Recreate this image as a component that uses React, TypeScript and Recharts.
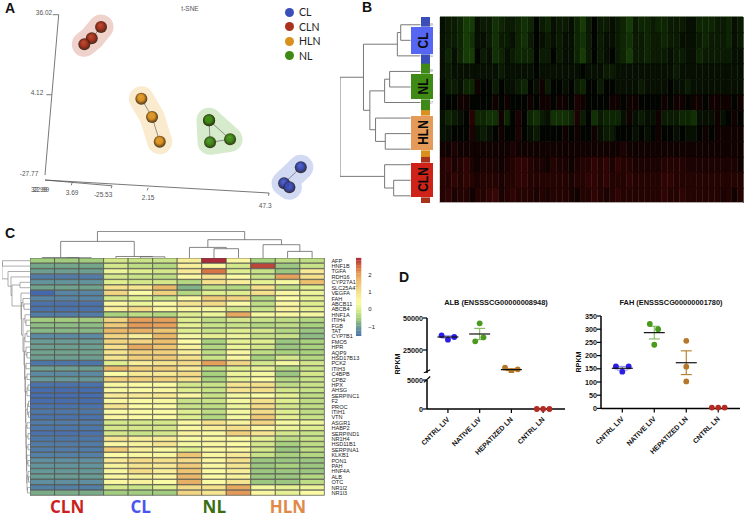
import React from "react";
import { Bar, BarChart, Cell, ErrorBar, ReferenceArea, ReferenceLine, Scatter, ScatterChart, XAxis, YAxis } from "recharts";

// panel A: t-SNE
const groupNames = ["CL", "CLN", "HLN", "NL"];
const groupColors = ["#3b4db8", "#a8321c", "#d9901e", "#3f8a16"];
const haloColors = ["#d2d9f3", "#eed2cb", "#faebcf", "#d6eacc"];
const tsneCL = [{ x: 58.55, y: -24.82 }, { x: 52.57, y: -31.2 }, { x: 54.47, y: -32.8 }];
const tsneCLN = [{ x: -12.94, y: 31.12 }, { x: -16.27, y: 26.61 }, { x: -18.92, y: 24.22 }];
const tsneHLN = [{ x: 1.49, y: 2.53 }, { x: 5.32, y: -4.77 }, { x: 8.07, y: -14.62 }];
const tsneNL = [{ x: 25.72, y: -6.08 }, { x: 26.08, y: -14.85 }, { x: 33.24, y: -13.66 }, { x: 25.72, y: -6.08 }];
const tsneGroups = [tsneCL, tsneCLN, tsneHLN, tsneNL];
const tsneAxisLines = [
  [{ x: -28.09, y: 36.02 }, { x: -32.99, y: -27.9 }],
  [{ x: -32.99, y: -29.9 }, { x: 47.2, y: -35.07 }],
  [{ x: -32.99, y: -29.9 }, { x: -9, y: -32.2 }],
  [{ x: -28.09, y: 36.02 }, { x: -30.2, y: 36.02 }],
  [{ x: -30.6, y: 4.12 }, { x: -32.5, y: 4.12 }],
  [{ x: -23.3, y: -31 }, { x: -23.6, y: -32 }],
  [{ x: -9, y: -32.2 }, { x: -9.3, y: -33.2 }],
  [{ x: 3.9, y: -33 }, { x: 3.6, y: -34 }],
  [{ x: 47.2, y: -35.07 }, { x: 47, y: -36.2 }],
];
const tsneAxisLabels = [
  { x: -33.35, y: 36.7, text: "36.02" },
  { x: -35.85, y: 4.76, text: "4.12" },
  { x: -38.7, y: -27.5, text: "-27.77" },
  { x: -35.1, y: -33.9, text: "32.99" },
  { x: -34.4, y: -33.9, text: "22.99" },
  { x: -23.3, y: -35.07, text: "3.69" },
  { x: -12.2, y: -35.9, text: "-25.53" },
  { x: 3.9, y: -37.1, text: "2.15" },
  { x: 45.8, y: -40.3, text: "47.3" },
  { x: 18.9, y: 38.3, text: "t-SNE" },
];

// panel B: sample heatmap, green positive, red negative
const sampleLabels = ["s49", "s48", "s50", "s39", "s12", "s17", "s2", "s5", "s8", "s18", "s40", "s30"];
const sampleGroup = [0, 0, 0, 3, 3, 3, 2, 2, 2, 1, 1, 1];
const sampleRows = [
  [1,2,2,3,5,5,1,2,2,4,3,2,2,3,4,3,0,2,3,1,2,2,1,3,5,2,0,2,2,1,2,3,5,2,3,3,2,3,3,2,2,2,1,1,3,3,3,2,2,3,1,2],
  [1,2,2,3,5,4,1,1,2,4,2,2,1,3,4,2,0,1,2,1,2,1,1,3,4,2,0,2,1,1,2,3,4,2,2,3,2,2,3,2,2,1,1,1,2,3,2,2,2,3,1,2],
  [1,3,1,3,5,5,0,2,1,4,3,1,2,3,3,3,0,2,2,0,2,1,1,3,5,2,0,2,1,0,2,3,5,2,2,3,2,2,2,1,2,2,1,1,3,2,2,2,2,2,1,1],
  [1,2,1,1,1,1,1,1,1,1,2,1,1,1,1,1,0,1,1,1,1,1,1,1,0,1,1,1,2,2,1,1,1,1,1,1,1,1,1,1,2,1,1,1,1,1,1,1,1,1,1,1],
  [0,2,2,1,3,3,-1,0,0,2,0,1,1,2,3,0,1,-1,2,0,0,1,0,2,3,0,0,2,0,0,1,1,1,1,2,1,1,1,1,0,1,1,2,1,1,1,1,1,1,1,1,1],
  [0,0,0,-1,-1,0,0,0,0,-1,0,-1,0,0,0,-1,0,-1,-1,0,-1,-1,0,-2,-1,0,0,0,0,-1,-1,0,-1,-1,0,0,0,0,-1,0,-1,-1,0,-1,-1,0,-1,-1,-1,-1,0,-1],
  [1,3,2,1,0,-3,3,3,4,4,-1,3,0,-2,0,3,4,2,1,4,4,4,3,-2,2,0,4,2,3,3,3,1,-1,1,2,1,1,-1,2,2,2,3,3,4,1,1,1,-1,1,0,-1,0],
  [1,1,0,0,0,-2,1,2,1,0,-1,0,0,-2,0,1,2,0,0,0,0,-1,0,-1,0,0,-1,1,2,2,0,0,0,1,0,1,0,-1,0,0,1,0,1,1,0,-1,0,-1,-1,-1,-1,-1],
  [-1,-1,-2,-1,-1,-1,-1,-1,-1,-1,-1,-1,-2,-1,-1,-1,-1,-1,-1,-1,-1,-1,-1,-1,-1,-1,-1,-1,-1,-1,-1,-2,-1,-1,-1,-1,-1,-1,-1,-1,-1,-1,-1,-1,-1,-1,-1,-1,-1,-1,-1,-1],
  [-3,-4,-2,-3,-4,-2,-1,-2,-2,-2,-1,-2,-3,-4,-4,-3,-2,-2,-1,-3,-2,-2,-1,-2,-3,-3,-4,-3,-4,-2,-4,-3,-3,-2,-2,-2,-2,-2,-3,-3,-3,-3,-2,-2,-2,-2,-2,-2,-2,-2,-2,-1],
  [-3,-3,-4,-3,-4,-3,-2,-3,-3,-3,-2,-3,-3,-4,-4,-3,-3,-3,-3,-3,-3,-3,-2,-3,-3,-4,-4,-3,-4,-3,-3,-3,-4,-3,-3,-3,-3,-3,-4,-4,-3,-3,-3,-3,-3,-3,-3,-3,-3,-3,-3,-3],
  [-3,-4,-2,-3,-3,-1,-3,-3,-4,-5,-2,-3,-4,-3,-3,-3,-2,-3,-2,-3,-3,-3,-2,-1,-3,-3,-4,-3,-2,-3,-4,-3,-3,-3,-3,-3,-3,-3,-4,-3,-3,-4,-3,-3,-3,-3,-3,-3,-2,-3,-1,-3],
];
const sampleTree = [240,
  [170, [69, [59, 0, 1], 2], [151, [107, [92, 3, 4], 5], [134, 6, [105, 7, 8]]]],
  [107, 9, [80, 10, 11]]];

// panel C: liver gene heatmap, z-scores by column CLN, CL, NL, HLN
const geneNames = ["AFP", "HNF1B", "TGFA", "RDH16", "CYP27A1", "SLC25A47", "VEGFA", "FAH", "ABCB11", "ABCB4", "HNF1A", "ITIH4", "FGB", "TAT", "CYP7B1", "FMO5", "HPR", "AQP9", "HSD17B13", "PCK2", "ITIH3", "C4BPB", "CPB2", "HPX", "AHSG", "SERPINC1", "F2", "PROC", "ITIH1", "VTN", "ASGR1", "HABP2", "SERPIND1", "NR1H4", "HSD11B1", "SERPINA1", "KLKB1", "PON1", "PAH", "HNF4A", "ALB", "OTC", "NR1I2", "NR1I3"];
const geneRows = [
  [-.55,-.55,-.55,-.1,-.2,-.2,.7,2.95,.5,-.5,-.3,-.3],
  [-.9,-.9,-.9,-.1,-.3,-.4,.7,.5,-.1,2.75,-.6,-.2],
  [-1,-1,-1,.2,0,-.1,.8,2.4,0,-.2,-.6,.8],
  [-1.4,-1.4,-1.4,-.1,-.2,-.3,.5,.9,.4,-.2,2,1],
  [-1.15,-1.15,-1.15,0,-.1,-.1,-.4,1,.7,.1,.3,1.6],
  [-.95,-.95,-.95,1,.9,1.7,-.8,-.3,-.4,1,-.3,0],
  [-1.6,-1.3,-1.3,1.2,.4,1.3,-.4,0,0,1,.5,.2],
  [-1.3,-1.3,-1.3,-.1,0,-.2,.5,1.4,1.2,-.4,.4,.1],
  [-1.5,-1.5,-1.5,.5,.2,.4,.9,1.1,.4,-.3,.5,0],
  [-1.5,-1.5,-1.5,.7,1.1,.5,.5,.3,-.1,-.2,.6,.1],
  [-1.4,-1.4,-1.4,-.5,-.3,-.4,0,.2,1.9,.3,.5,.3],
  [-.55,-.55,-.55,1.2,2,2,0,-.3,-.1,-.2,-.3,-.4],
  [-.7,-.7,-.7,1.4,2.1,2,.1,-.2,-.2,-.4,-.3,-.5],
  [-.75,-.75,-.75,1.7,1.8,1.5,0,-.2,0,-.1,-.4,-.6],
  [-1.25,-1.25,-1.25,1.2,.7,1.7,.3,.1,.2,-.2,-.2,-.7],
  [-1.05,-1.05,-1.05,1.2,1.2,1.6,.4,-.5,.1,0,-.6,-.5],
  [-1,-1,-1,1,1.9,1.5,.6,-.4,.2,-.1,-.6,-.5],
  [-.95,-.95,-.95,.9,1.3,1.3,.7,-.3,.5,-.3,-.5,-.5],
  [-1,-1,-1,.9,1.3,1.4,1,-.2,.5,-.5,-.1,-.4],
  [-1.45,-1.45,-1.45,0,.7,.9,1.1,2,1.2,-.1,.3,-.1],
  [-1,-1,-1,1.7,1.3,1.3,.8,-.3,0,.1,-.4,-.2],
  [-1.25,-1.25,-1.25,.4,.8,.8,1.1,-.5,.2,.3,-.6,-.1],
  [-1.1,-1.1,-1.1,1.3,1.3,1.3,1,-.5,.1,.4,-.4,-.2],
  [-1.5,-1.5,-1.5,.5,.4,.4,-.1,-.2,.9,1,-.3,-.2],
  [-1.55,-1.55,-1.55,.5,.4,.5,0,-.2,.9,1,-.1,-.2],
  [-1.55,-1.55,-1.55,.8,.8,.8,.5,-.2,.3,.4,.1,-.3],
  [-1.55,-1.55,-1.55,.5,.4,.5,-.2,-.2,.3,1,0,-.3],
  [-1.5,-1.5,-1.5,.9,.4,.4,-.2,-.3,.2,1.1,-.1,-.3],
  [-1.45,-1.45,-1.45,.4,.4,.4,0,-.3,.3,1.1,0,-.3],
  [-1.5,-1.5,-1.5,.5,.4,.4,0,-.4,.3,1.4,.1,-.2],
  [-1.4,-1.4,-1.4,-.1,-.1,-.1,.5,1,.6,1.2,.3,.2],
  [-1.45,-1.45,-1.45,-.1,-.1,-.1,.5,.7,1,.5,.2,0],
  [-1.5,-1.5,-1.5,-.1,-.2,-.1,.6,.5,1.3,.9,-.1,-.2],
  [-1.45,-1.45,-1.45,.9,.7,.7,.4,.5,.4,.1,-.3,-.2],
  [-1.4,-1.4,-1.4,.5,.6,.9,.3,.5,.4,-.1,-.5,-.3],
  [-1.4,-1.4,-1.4,1.4,.7,.5,0,.5,.5,-.1,-.6,-.3],
  [-1.35,-1.35,-1.35,.4,.5,.5,1.5,.5,.8,-.2,-.5,-.4],
  [-1.2,-1.2,-1.2,.8,1.1,1,1.1,.5,1,-.6,-.6,-.6],
  [-1.15,-1.15,-1.15,.6,.9,.8,1.4,.5,.9,-.6,-.5,-.6],
  [-1.1,-1.1,-1.1,.5,1.1,.7,1.5,.4,.7,-.6,-.6,-.6],
  [-1.05,-1.05,-1.05,.5,.6,.5,1.7,.4,.6,-.6,-.6,-.4],
  [-1.2,-1.2,-1.2,.5,.6,.4,1.8,.4,.9,-.6,-.6,-.3],
  [-1.35,-1.35,-1.35,-.1,-.2,0,1.1,1,1.9,.3,.1,.2],
  [-.85,-.85,-.85,-.55,-.55,-.55,1.2,.9,2.1,.5,.1,.4],
];
const columnTree = [26.6,
  [16.6, [.5, 0, [.3, 1, 2]], [1.5, 3, [1.2, 4, 5]]],
  [18.3, [10.6, 6, [9.3, 7, 8]], [13.3, 9, [6.6, 10, 11]]]];
const geneTree = [28, [27.5, 0, 1], [22, 2, [19, 3, [18, [10, 4, 5], [9, 6,
  [8.5, [7, 7, [6, 8, 9]], [7, [5, 10, [4, 11, 12]], [6, [5, [3, 13, 14], 15], [5.5, [4, 16, [3, 17, 18]], [5, [4, 19, 20], [4.6, [3, 21, 22],
    [4.4, [3, [2, 23, 24], 25], [4.2, [2.5, [1.5, 26, 27], [1.5, 28, 29]], [4, [3, 30, 31], [3.8, [2, 32, 33], [3.5, [2, 34, 35],
      [3.3, [3, 36, [2, 37, 38]], [3, [2, 39, [1.5, 40, 41]], [2.5, 42, 43]]]]]]]]]]]]]]]]]]];
const scaleStops: [number, string][] = [[-1.6, "#4468ae"], [-1.2, "#5f8fa0"], [-.9, "#74a68a"], [-.5, "#a8d27e"], [0, "#dfee8e"], [.4, "#fbfba6"], [1, "#f5e08c"], [1.6, "#ecbf6e"], [2.1, "#e39a58"], [2.5, "#d4683f"], [2.95, "#ab2b3a"]];
const scaleSteps = [-1.55, -1.4, -1.25, -1.1, -.95, -.8, -.65, -.5, -.35, -.2, -.05, .1, .25, .4, .55, .7, .85, 1, 1.15, 1.3, 1.45, 1.6, 1.75, 1.9, 2.05, 2.2, 2.35, 2.5, 2.65, 2.8];
const scaleTicks = [-1, 0, 1, 2];
const columnLabels = ["CLN", "CL", "NL", "HLN"];
const columnLabelColors = ["#cc1f1f", "#4a55f0", "#3a6e14", "#e08a4a"];

// panel D: RPKM dot plots
const conditions = ["CNTRL LIV", "NATIVE LIV", "HEPATIZED LN", "CNTRL LN"];
const dotColors = ["#2a1ee6", "#4a9a1e", "#b5782a", "#b22a22"];
const whiskerColors = ["#8f8ff0", "#7fb85a", "#b5782a", "#b22a22"];
const albPoints = [
  [{ x: -.2, y: 36460 }, { x: 0, y: 33080 }, { x: .2, y: 35160 }],
  [{ x: 1, y: 45830 }, { x: .86, y: 31770 }, { x: 1.12, y: 34900 }],
  [{ x: 1.8, y: 11200 }, { x: 2, y: 8080 }, { x: 2.2, y: 9900 }],
];
const albLow = [{ x: 2.8, y: 0 }, { x: 3, y: 0 }, { x: 3.2, y: 0 }];
const albMeans = [{ x: 0, y: 35160, sem: 900 }, { x: 1, y: 37500, sem: 4400 }, { x: 2, y: 9640, sem: 700 }];
const fahPoints = [
  [{ x: -.2, y: 159 }, { x: 0, y: 139 }, { x: .2, y: 159 }],
  [{ x: .86, y: 320 }, { x: 1.12, y: 300 }, { x: 1, y: 241 }],
  [{ x: 2, y: 256 }, { x: 2, y: 158 }, { x: 2, y: 102 }],
  [{ x: 2.8, y: 3 }, { x: 3, y: 3 }, { x: 3.2, y: 3 }],
];
const fahMeans = [{ x: 0, y: 152, sem: 7 }, { x: 1, y: 287, sem: 24 }, { x: 2, y: 173, sem: 45 }];
const fahTicks = [0, 50, 100, 150, 200, 250, 300, 350];

const arial = "Liberation Sans, Arial, sans-serif";
const noDot = () => <g />;

function treeSegments(tree: any, out: any[]) {
  if (typeof tree === "number") return { pos: tree, h: 0 };
  const [h, left, right] = tree;
  const a: any = treeSegments(left, out);
  const b: any = treeSegments(right, out);
  out.push([{ h: a.h, pos: a.pos }, { h, pos: a.pos }]);
  out.push([{ h, pos: a.pos }, { h, pos: b.pos }]);
  out.push([{ h: b.h, pos: b.pos }, { h, pos: b.pos }]);
  return { pos: (a.pos + b.pos) / 2, h };
}

function Dendrogram({ tree, left, top, width, height, maxH, leaves, sideways, stroke, strokeWidth }: any) {
  const segs: any[] = [];
  treeSegments(tree, segs);
  const heightAxis = { type: "number" as const, domain: [0, maxH], hide: true };
  const posAxis = { type: "number" as const, domain: [-0.5, leaves - 0.5], hide: true };
  const anchor = sideways ? [{ x: 0, y: 0 }] : [{ x: 0, y: 0 }];
  return (
    <div style={{ position: "absolute", left, top }}>
      <ScatterChart width={width} height={height} margin={{ top: 0, right: 0, bottom: 0, left: 0 }}>
        {sideways ? <XAxis dataKey="x" {...heightAxis} reversed /> : <XAxis dataKey="x" {...posAxis} />}
        {sideways ? <YAxis dataKey="y" {...posAxis} reversed /> : <YAxis dataKey="y" {...heightAxis} />}
        <Scatter data={anchor} shape={noDot} isAnimationActive={false} />
        {segs.map((s, i) => (
          <ReferenceLine
            key={i}
            ifOverflow="visible"
            stroke={stroke}
            strokeWidth={strokeWidth}
            segment={s.map((p: any) => (sideways ? { x: p.h, y: p.pos } : { x: p.pos, y: p.h }))}
          />
        ))}
      </ScatterChart>
    </div>
  );
}

function Sphere(props: any) {
  return <circle cx={props.cx} cy={props.cy} r={6} fill={`url(#sphere${props.group})`} />;
}

function TsnePanel() {
  return (
    <div style={{ position: "absolute", left: 0, top: 0 }}>
      <ScatterChart width={330} height={215} margin={{ top: 0, right: 0, bottom: 0, left: 0 }}>
        <defs>
          {groupColors.map((c, i) => (
            <radialGradient key={c} id={`sphere${i}`} cx="50%" cy="50%" r="55%" fx="42%" fy="32%">
              <stop offset="0%" stopColor={c} stopOpacity={0.8} />
              <stop offset="50%" stopColor={c} />
              <stop offset="100%" stopColor="#24180c" stopOpacity={0.9} />
            </radialGradient>
          ))}
        </defs>
        <XAxis dataKey="x" type="number" domain={[-49.1, 69]} hide />
        <YAxis dataKey="y" type="number" domain={[-43.84, 41.88]} hide />
        {tsneGroups.map((g, i) => (
          <Scatter key={`halo${i}`} data={g} shape={noDot} isAnimationActive={false} line={{ stroke: haloColors[i], strokeWidth: 25, strokeLinecap: "round", strokeLinejoin: "round" }} />
        ))}
        {tsneAxisLines.map((s, i) => (
          <ReferenceLine key={i} segment={s} stroke="#555" strokeWidth={0.8} ifOverflow="visible" />
        ))}
        <Scatter
          data={tsneAxisLabels}
          isAnimationActive={false}
          shape={(p: any) => (
            <text x={p.cx} y={p.cy} textAnchor="middle" dominantBaseline="middle" fontSize={6.5} fontFamily={arial} fill="#555">
              {p.payload.text}
            </text>
          )}
        />
        {tsneGroups.map((g, i) => (
          <Scatter
            key={`balls${i}`}
            data={g}
            isAnimationActive={false}
            line={{ stroke: "#777", strokeWidth: 0.8 }}
            shape={(p: any) => <Sphere {...p} group={i} />}
          />
        ))}
      </ScatterChart>
      {groupNames.map((name, i) => (
        <div key={name} style={{ position: "absolute", left: 284.5, top: 7.5 + i * 14.6, display: "flex", alignItems: "center", height: 9 }}>
          <span style={{ width: 9, height: 9, borderRadius: "50%", background: groupColors[i], marginRight: 5.5 }} />
          <span style={{ fontFamily: "Lato, sans-serif", fontSize: 10.5, color: "#222" }}>{name}</span>
        </div>
      ))}
    </div>
  );
}

function sampleColor(v: number) {
  if (v >= 0) {
    const g = 4 + v * 11;
    return `rgb(${Math.round(g * 0.38)},${Math.round(g)},${Math.round(g * 0.1)})`;
  }
  const r = 6 - v * 10;
  return `rgb(${Math.round(r)},${Math.round(r * 0.1)},${Math.round(r * 0.08)})`;
}

function SamplePanel() {
  const table = sampleLabels.map((label, i) => {
    const row: any = { label, side: 1 };
    sampleRows[i].forEach((_, c) => (row[`c${c}`] = 1));
    return row;
  });
  const boxes = [
    { name: "CL", top: 26.7, height: 27.3, color: "#5566f2" },
    { name: "NL", top: 74, height: 25, color: "#3f8a14" },
    { name: "HLN", top: 115.7, height: 34.3, color: "#e49a58" },
    { name: "CLN", top: 163, height: 33.7, color: "#cf2218" },
  ];
  return (
    <>
      <Dendrogram tree={sampleTree} left={340} top={16.7} width={80.5} height={186.6} maxH={240} leaves={12} sideways stroke="#777" strokeWidth={1} />
      <div style={{ position: "absolute", left: 420.5, top: 16.7 }}>
        <BarChart width={9.5} height={186.6} data={table} layout="vertical" barCategoryGap={0} margin={{ top: 0, right: 0, bottom: 0, left: 0 }}>
          <XAxis type="number" domain={[0, 1]} hide />
          <YAxis type="category" dataKey="label" hide />
          <Bar dataKey="side" isAnimationActive={false}>
            {sampleGroup.map((g, i) => <Cell key={i} fill={groupColors[g]} />)}
          </Bar>
        </BarChart>
      </div>
      <div style={{ position: "absolute", left: 420, top: 16.7 }}>
        <BarChart width={323.5} height={186.6} data={table} layout="vertical" barCategoryGap={0} margin={{ top: 0, right: 0, bottom: 0, left: 0 }}>
          <XAxis type="number" domain={[0, sampleRows[0].length]} hide />
          <YAxis type="category" dataKey="label" width={20} interval={0} tickLine={false} axisLine={false} tickMargin={1} tick={{ fontSize: 3, fill: "#777", fontFamily: arial }} />
          {sampleRows[0].map((_, c) => (
            <Bar key={c} dataKey={`c${c}`} stackId="s" isAnimationActive={false}>
              {sampleRows.map((row, i) => <Cell key={i} fill={sampleColor(row[c])} stroke={sampleColor(row[c])} strokeWidth={0.4} />)}
            </Bar>
          ))}
        </BarChart>
      </div>
      <div style={{ position: "absolute", left: 440, top: 16, width: 303.3, height: 187.2, borderTop: "1px solid #7f8f78", borderBottom: "1px solid #b0a8a8", boxSizing: "border-box" }} />
      {boxes.map((b) => (
        <div key={b.name} style={{ position: "absolute", left: 410.7, top: b.top, width: 22.6, height: b.height, background: b.color, display: "flex", alignItems: "center", justifyContent: "center", boxShadow: "0 0 0 0.6px #ffffff99" }}>
          <span style={{ display: "inline-block", transform: "rotate(-90deg) scaleX(0.8)", fontFamily: arial, fontWeight: 700, fontSize: 15, color: "#0a0a0a", whiteSpace: "nowrap" }}>{b.name}</span>
        </div>
      ))}
    </>
  );
}

function geneColor(v: number) {
  const hex = (s: string, i: number) => parseInt(s.slice(1 + i * 2, 3 + i * 2), 16);
  let k = 0;
  while (k < scaleStops.length - 2 && v > scaleStops[k + 1][0]) k++;
  const [v0, c0] = scaleStops[k];
  const [v1, c1] = scaleStops[k + 1];
  const t = Math.max(0, Math.min(1, (v - v0) / (v1 - v0)));
  const mix = [0, 1, 2].map((i) => Math.round(hex(c0, i) + (hex(c1, i) - hex(c0, i)) * t));
  return `rgb(${mix.join(",")})`;
}

function GenePanel() {
  const table = geneNames.map((gene) => {
    const row: any = { gene };
    geneRows[0].forEach((_, c) => (row[`c${c}`] = 1));
    return row;
  });
  return (
    <>
      <Dendrogram tree={columnTree} left={30.3} top={231.3} width={294.4} height={27} maxH={27} leaves={12} stroke="#666" strokeWidth={0.8} />
      <Dendrogram tree={geneTree} left={2.3} top={258.3} width={28} height={237.7} maxH={28} leaves={44} sideways stroke="#777" strokeWidth={0.6} />
      <div style={{ position: "absolute", left: 30.3, top: 258.3 }}>
        <BarChart width={334.4} height={237.7} data={table} layout="vertical" barCategoryGap={0} margin={{ top: 0, right: 0, bottom: 0, left: 0 }}>
          <XAxis type="number" domain={[0, 12]} hide />
          <YAxis type="category" dataKey="gene" orientation="right" width={40} interval={0} tickLine={false} axisLine={false} tickMargin={1} tick={{ fontSize: 5.6, fill: "#222", fontFamily: arial }} />
          {geneRows[0].map((_, c) => (
            <Bar key={c} dataKey={`c${c}`} stackId="g" isAnimationActive={false}>
              {geneRows.map((row, i) => <Cell key={i} fill={geneColor(row[c])} stroke="#4a4a44" strokeWidth={0.7} />)}
            </Bar>
          ))}
        </BarChart>
      </div>
      <div style={{ position: "absolute", left: 355.7, top: 253 }}>
        <ScatterChart width={22} height={88} margin={{ top: 5, right: 0, bottom: 5, left: 0 }}>
          <XAxis dataKey="x" type="number" domain={[0, 1]} hide />
          <YAxis dataKey="y" type="number" orientation="right" domain={[-1.55, 2.95]} ticks={scaleTicks} width={16.7} axisLine={false} tickLine={false} tickMargin={1}
            tickFormatter={(v: number) => (v < 0 ? `\u2212${-v}` : `${v}`)} tick={{ fontSize: 6, fill: "#222", fontFamily: arial }} />
          <Scatter data={[{ x: 0, y: 0 }]} shape={noDot} isAnimationActive={false} />
          {scaleSteps.map((v) => (
            <ReferenceArea key={v} x1={0} x2={1} y1={v} y2={v + 0.16} fill={geneColor(v + 0.08)} fillOpacity={1} stroke="none" ifOverflow="visible" />
          ))}
        </ScatterChart>
      </div>
      {columnLabels.map((label, i) => (
        <div key={label} style={{ position: "absolute", left: 30.3 + i * 73.6, width: 73.6, top: 495, textAlign: "center", fontFamily: "Open Sans, sans-serif", fontWeight: 700, fontSize: 17, lineHeight: "23px", color: columnLabelColors[i] }}>
          {label}
        </div>
      ))}
    </>
  );
}

const conditionTick = (p: any) => (
  <text transform={`translate(${p.x + 2},${p.y + 5}) rotate(-45)`} textAnchor="end" fontSize={7} fontWeight={700} fontFamily={arial} fill="#111">
    {conditions[p.payload.value]}
  </text>
);

const yTick = { fontSize: 7.2, fontWeight: 700, fill: "#111", fontFamily: arial };

function dot(color: string) {
  return (p: any) => <circle cx={p.cx} cy={p.cy} r={2.9} fill={color} />;
}

function meanBar(p: any) {
  return <line x1={p.cx - 10.5} x2={p.cx + 10.5} y1={p.cy} y2={p.cy} stroke="#111" strokeWidth={1.2} />;
}

function DotSeries(points: any[][], means: any[], capWidth: number) {
  return [
    ...points.map((g, i) => <Scatter key={`p${i}`} data={g} shape={dot(dotColors[i])} isAnimationActive={false} />),
    ...means.map((m, i) => (
      <Scatter key={`m${i}`} data={[m]} shape={meanBar} isAnimationActive={false}>
        <ErrorBar dataKey="sem" direction="y" width={capWidth} stroke={whiskerColors[i]} strokeWidth={1.1} />
      </Scatter>
    )),
  ];
}

function AlbPanel() {
  const xDomain = [-0.66, 3.69];
  return (
    <>
      <div style={{ position: "absolute", left: 387, top: 312 }}>
        <ScatterChart width={183} height={61} margin={{ top: 6, right: 5, bottom: 0, left: 0 }}>
          <XAxis dataKey="x" type="number" domain={xDomain} hide />
          <YAxis dataKey="y" type="number" domain={[7000, 50000]} ticks={[25000, 50000]} width={40} tick={yTick} axisLine={{ stroke: "#000", strokeWidth: 1.5 }} tickLine={{ stroke: "#000", strokeWidth: 1.2 }} tickSize={4} tickMargin={0} />
          <ReferenceLine segment={[{ x: -0.76, y: 7000 }, { x: -0.56, y: 9500 }]} stroke="#000" strokeWidth={1.2} ifOverflow="visible" />
          {DotSeries(albPoints, albMeans, 5.5)}
        </ScatterChart>
      </div>
      <div style={{ position: "absolute", left: 387, top: 374 }}>
        <ScatterChart width={183} height={95} margin={{ top: 6, right: 5, bottom: 0, left: 0 }}>
          <XAxis dataKey="x" type="number" domain={xDomain} ticks={[0, 1, 2, 3]} height={60} interval={0} tick={conditionTick} axisLine={{ stroke: "#000", strokeWidth: 1.5 }} tickLine={{ stroke: "#000", strokeWidth: 1.2 }} tickSize={4} />
          <YAxis dataKey="y" type="number" domain={[0, 5000]} ticks={[0, 5000]} width={40} tick={yTick} axisLine={{ stroke: "#000", strokeWidth: 1.5 }} tickLine={{ stroke: "#000", strokeWidth: 1.2 }} tickSize={4} tickMargin={0} />
          <ReferenceLine segment={[{ x: -0.76, y: 4600 }, { x: -0.56, y: 5600 }]} stroke="#000" strokeWidth={1.2} ifOverflow="visible" />
          <Scatter data={albLow} shape={dot(dotColors[3])} isAnimationActive={false} />
        </ScatterChart>
      </div>
    </>
  );
}

function FahPanel() {
  return (
    <div style={{ position: "absolute", left: 561, top: 310.3 }}>
      <ScatterChart width={184} height={158.4} margin={{ top: 6, right: 5, bottom: 0, left: 0 }}>
        <XAxis dataKey="x" type="number" domain={[-0.666, 3.68]} ticks={[0, 1, 2, 3]} height={60} interval={0} tick={conditionTick} axisLine={{ stroke: "#000", strokeWidth: 1.5 }} tickLine={{ stroke: "#000", strokeWidth: 1.2 }} tickSize={4} />
        <YAxis dataKey="y" type="number" domain={[0, 350]} ticks={fahTicks} width={40} tick={yTick} axisLine={{ stroke: "#000", strokeWidth: 1.5 }} tickLine={{ stroke: "#000", strokeWidth: 1.2 }} tickSize={4} tickMargin={0} />
        {DotSeries(fahPoints, fahMeans, 5.5)}
      </ScatterChart>
    </div>
  );
}

function PanelText({ text, x, y, size, weight = 700, rotate, center }: any) {
  return (
    <div style={{ position: "absolute", left: x, top: y, fontFamily: arial, fontSize: size, fontWeight: weight, color: "#111", whiteSpace: "nowrap", lineHeight: 1, transform: `${center ? "translate(-50%,-50%)" : ""} ${rotate ? `rotate(${rotate}deg)` : ""}` }}>
      {text}
    </div>
  );
}

export default function App() {
  return (
    <div style={{ position: "absolute", left: 0, top: 0, width: 748, height: 517, background: "#fff", overflow: "hidden" }}>
      <TsnePanel />
      <SamplePanel />
      <GenePanel />
      <AlbPanel />
      <FahPanel />
      <PanelText text="A" x={5} y={1} size={14} />
      <PanelText text="B" x={362} y={0} size={14} />
      <PanelText text="C" x={5} y={226} size={14} />
      <PanelText text="D" x={399} y={270} size={14} />
      <PanelText text="ALB (ENSSSCG00000008948)" x={496} y={303} size={7.4} center />
      <PanelText text="FAH (ENSSSCG00000001780)" x={671} y={303} size={7.4} center />
      <PanelText text="RPKM" x={398} y={364} size={7.2} center rotate={-90} />
      <PanelText text="RPKM" x={579} y={362} size={7.2} center rotate={-90} />
    </div>
  );
}
